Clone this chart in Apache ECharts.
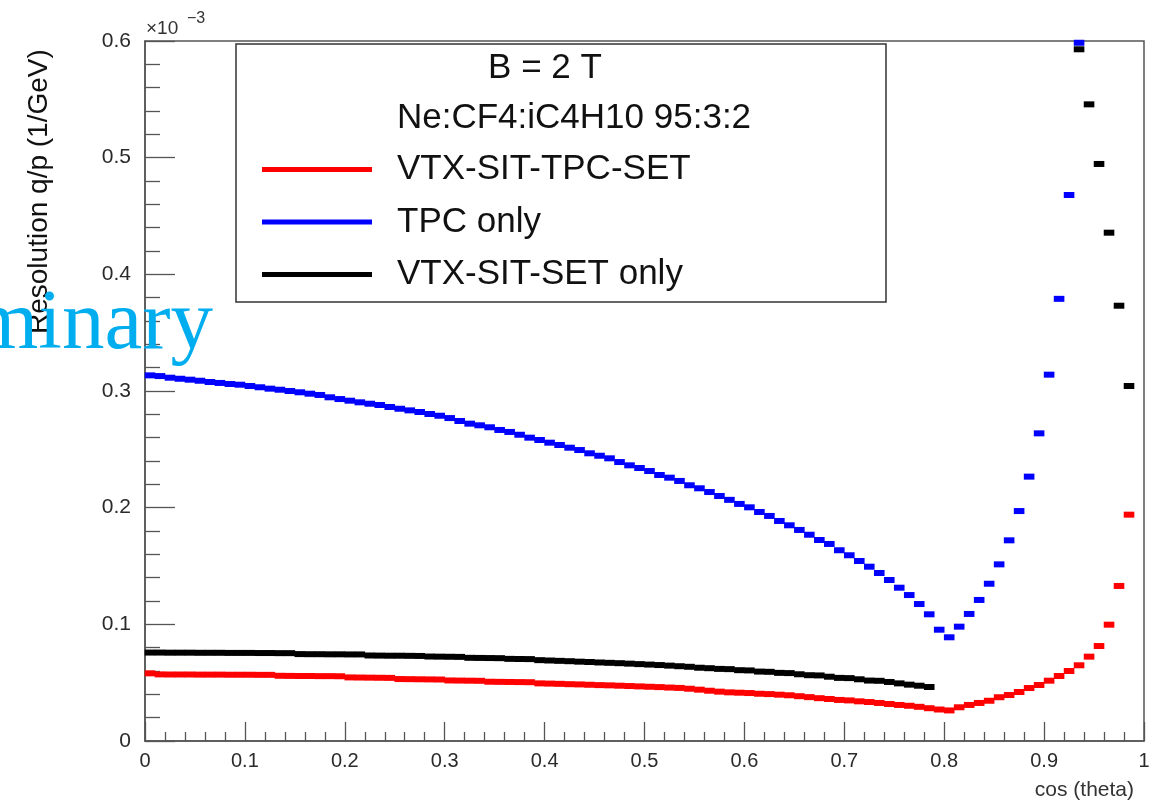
<!DOCTYPE html>
<html>
<head>
<meta charset="utf-8">
<style>
  html, body { margin: 0; padding: 0; background: #ffffff; }
  #chart { width: 1157px; height: 804px; }
</style>
<script src="https://cdn.jsdelivr.net/npm/echarts@6/dist/echarts.min.js"></script>
</head>
<body>
<div id="chart"></div>
<script>
// ---- data (bin centres in cos(theta), bin width 0.01) ----
const cosTheta = [
  0.005,0.015,0.025,0.035,0.045,0.055,0.065,0.075,0.085,0.095,
  0.105,0.115,0.125,0.135,0.145,0.155,0.165,0.175,0.185,0.195,
  0.205,0.215,0.225,0.235,0.245,0.255,0.265,0.275,0.285,0.295,
  0.305,0.315,0.325,0.335,0.345,0.355,0.365,0.375,0.385,0.395,
  0.405,0.415,0.425,0.435,0.445,0.455,0.465,0.475,0.485,0.495,
  0.505,0.515,0.525,0.535,0.545,0.555,0.565,0.575,0.585,0.595,
  0.605,0.615,0.625,0.635,0.645,0.655,0.665,0.675,0.685,0.695,
  0.705,0.715,0.725,0.735,0.745,0.755,0.765,0.775,0.785,0.795,
  0.805,0.815,0.825,0.835,0.845,0.855,0.865,0.875,0.885,0.895,
  0.905,0.915,0.925,0.935,0.945,0.955,0.965,0.975,0.985
];

// resolution q/p in units of 1e-3 1/GeV
const vtxSitTpcSet = [
  0.0580,0.0571,0.0570,0.0570,0.0570,0.0569,0.0569,0.0569,0.0568,0.0568,
  0.0568,0.0567,0.0567,0.0559,0.0558,0.0557,0.0557,0.0556,0.0556,0.0555,
  0.0545,0.0544,0.0543,0.0542,0.0541,0.0531,0.0530,0.0529,0.0528,0.0527,
  0.0519,0.0518,0.0517,0.0516,0.0508,0.0507,0.0506,0.0505,0.0504,0.0494,
  0.0492,0.0490,0.0487,0.0485,0.0482,0.0479,0.0477,0.0474,0.0471,0.0468,
  0.0465,0.0462,0.0458,0.0455,0.0448,0.0440,0.0431,0.0423,0.0417,0.0414,
  0.0411,0.0405,0.0402,0.0397,0.0392,0.0384,0.0376,0.0367,0.0360,0.0352,
  0.0348,0.0340,0.0334,0.0326,0.0317,0.0309,0.0302,0.0293,0.0281,0.0270,
  0.0262,0.0289,0.0309,0.0326,0.0345,0.0375,0.0394,0.0420,0.0454,0.0480,
  0.0517,0.0557,0.0600,0.0649,0.0723,0.0814,0.0997,0.1329,0.1940
];

const tpcOnly = [
  0.3134,0.3128,0.3114,0.3105,0.3097,0.3088,0.3077,0.3069,0.3060,0.3054,
  0.3043,0.3032,0.3020,0.3011,0.3000,0.2989,0.2977,0.2966,0.2946,0.2931,
  0.2917,0.2903,0.2891,0.2880,0.2863,0.2848,0.2834,0.2820,0.2803,0.2788,
  0.2768,0.2743,0.2720,0.2706,0.2689,0.2666,0.2649,0.2625,0.2600,0.2580,
  0.2557,0.2537,0.2514,0.2494,0.2466,0.2445,0.2423,0.2391,0.2363,0.2340,
  0.2314,0.2280,0.2257,0.2229,0.2192,0.2166,0.2134,0.2100,0.2067,0.2032,
  0.2003,0.1963,0.1929,0.1886,0.1849,0.1809,0.1768,0.1723,0.1689,0.1635,
  0.1592,0.1543,0.1494,0.1440,0.1380,0.1314,0.1251,0.1174,0.1086,0.0954,
  0.0889,0.0980,0.1089,0.1209,0.1348,0.1514,0.1720,0.1971,0.2266,0.2637,
  0.3140,0.3790,0.4680,0.5985,null,null,null,null,null
];

const vtxSitSetOnly = [
  0.0758,0.0758,0.0757,0.0757,0.0757,0.0756,0.0756,0.0756,0.0755,0.0755,
  0.0755,0.0754,0.0754,0.0753,0.0753,0.0745,0.0744,0.0744,0.0743,0.0743,
  0.0742,0.0742,0.0733,0.0732,0.0731,0.0731,0.0730,0.0729,0.0724,0.0723,
  0.0722,0.0721,0.0713,0.0712,0.0711,0.0710,0.0704,0.0703,0.0702,0.0693,
  0.0690,0.0687,0.0684,0.0680,0.0677,0.0673,0.0670,0.0667,0.0663,0.0659,
  0.0655,0.0651,0.0646,0.0641,0.0636,0.0628,0.0624,0.0618,0.0616,0.0607,
  0.0605,0.0595,0.0593,0.0584,0.0582,0.0572,0.0564,0.0562,0.0551,0.0541,
  0.0539,0.0529,0.0518,0.0516,0.0506,0.0494,0.0483,0.0474,0.0463,null,
  null,null,null,null,null,null,null,null,null,null,
  null,null,null,0.5929,0.5457,0.4946,0.4357,0.3731,0.3043
];

const seriesNames = ['VTX-SIT-TPC-SET', 'TPC only', 'VTX-SIT-SET only'];
const headerLines = ['B = 2 T', 'Ne:CF4:iC4H10 95:3:2'];
const xTitle = 'cos (theta)';
const yTitle = 'Resolution q/p (1/GeV)';
const watermark = 'Preliminary';

// ---- build ----
function pairs(values) {
  const out = [];
  values.forEach((v, i) => { if (v !== null) out.push([cosTheta[i], v]); });
  return out;
}

const axisColor = '#555555';
const labelFont = 'Liberation Sans';

const chart = echarts.init(document.getElementById('chart'), null, { renderer: 'canvas' });

const markerSeries = (name, values, color) => ({
  name: name,
  type: 'scatter',
  data: pairs(values),
  symbol: 'rect',
  symbolSize: [10.6, 6],
  itemStyle: { color: color, opacity: 1 },
  emphasis: { disabled: true },
  z: 3
});

chart.setOption({
  animation: false,
  backgroundColor: '#ffffff',
  grid: {
    left: 145, right: 13, top: 41, bottom: 63,
    show: true, borderColor: axisColor, borderWidth: 1.5,
    backgroundColor: '#ffffff',
    outerBoundsMode: 'none'
  },
  xAxis: {
    type: 'value', min: 0, max: 1, interval: 0.1,
    axisLine: { show: true, onZero: false, lineStyle: { color: axisColor, width: 1.5 } },
    axisTick: { show: true, inside: true, length: 19, lineStyle: { color: axisColor, width: 1.3 } },
    minorTick: { show: true, splitNumber: 5, length: 9, lineStyle: { color: axisColor, width: 1.3 } },
    splitLine: { show: false },
    axisLabel: { color: '#2a2a2a', fontFamily: labelFont, fontSize: 20, margin: 10 }
  },
  yAxis: {
    type: 'value', min: 0, max: 0.6, interval: 0.1,
    axisLine: { show: true, onZero: false, lineStyle: { color: axisColor, width: 1.5 } },
    axisTick: { show: true, inside: true, length: 30, lineStyle: { color: axisColor, width: 1.3 } },
    minorTick: { show: true, splitNumber: 5, length: 15, lineStyle: { color: axisColor, width: 1.3 } },
    splitLine: { show: false },
    axisLabel: { color: '#2a2a2a', fontFamily: labelFont, fontSize: 21, margin: 14 }
  },
  legend: {
    data: seriesNames,
    orient: 'vertical',
    left: 262, top: 152,
    padding: 0,
    itemGap: 17.5,
    itemWidth: 110, itemHeight: 5,
    icon: 'rect',
    selectedMode: false,
    textStyle: { fontFamily: labelFont, fontSize: 35, color: '#111111', padding: [0, 0, 0, 20] },
    z: 6
  },
  series: [
    markerSeries(seriesNames[0], vtxSitTpcSet, '#ff0000'),
    markerSeries(seriesNames[1], tpcOnly, '#0000ff'),
    markerSeries(seriesNames[2], vtxSitSetOnly, '#000000')
  ],
  graphic: { elements: [
    { type: 'rect', z: 4, shape: { x: 236, y: 44, width: 650, height: 258 },
      style: { fill: '#ffffff', stroke: '#333333', lineWidth: 1.5 } },
    { type: 'text', z: 6, x: 545, y: 68,
      style: { text: headerLines[0], font: '35px "Liberation Sans"', fill: '#111111',
               align: 'center', verticalAlign: 'middle', textAlign: 'center', textVerticalAlign: 'middle' } },
    { type: 'text', z: 6, x: 397, y: 118,
      style: { text: headerLines[1], font: '35px "Liberation Sans"', fill: '#111111',
               align: 'left', verticalAlign: 'middle', textAlign: 'left', textVerticalAlign: 'middle' } },
    { type: 'text', z: 6, x: 1134, y: 790,
      style: { text: xTitle, font: '21px "Liberation Sans"', fill: '#333333',
               align: 'right', verticalAlign: 'middle', textAlign: 'right', textVerticalAlign: 'middle' } },
    { type: 'text', z: 6, x: 39, y: 334, rotation: Math.PI / 2,
      style: { text: yTitle, font: '28px "Liberation Sans"', fill: '#111111',
               align: 'left', verticalAlign: 'middle', textAlign: 'left', textVerticalAlign: 'middle' } },
    { type: 'text', z: 6, x: 146, y: 29,
      style: { text: '×10', font: '19px "Liberation Sans"', fill: '#333333',
               align: 'left', verticalAlign: 'middle', textAlign: 'left', textVerticalAlign: 'middle' } },
    { type: 'text', z: 6, x: 187, y: 19,
      style: { text: '−3', font: '16px "Liberation Sans"', fill: '#333333',
               align: 'left', verticalAlign: 'middle', textAlign: 'left', textVerticalAlign: 'middle' } },
    { type: 'text', z: 20, x: 213, y: 326,
      style: { text: watermark, font: '85px "Liberation Serif"', fill: '#00AEEF',
               align: 'right', verticalAlign: 'middle', textAlign: 'right', textVerticalAlign: 'middle' } }
  ] }
});
</script>
</body>
</html>
